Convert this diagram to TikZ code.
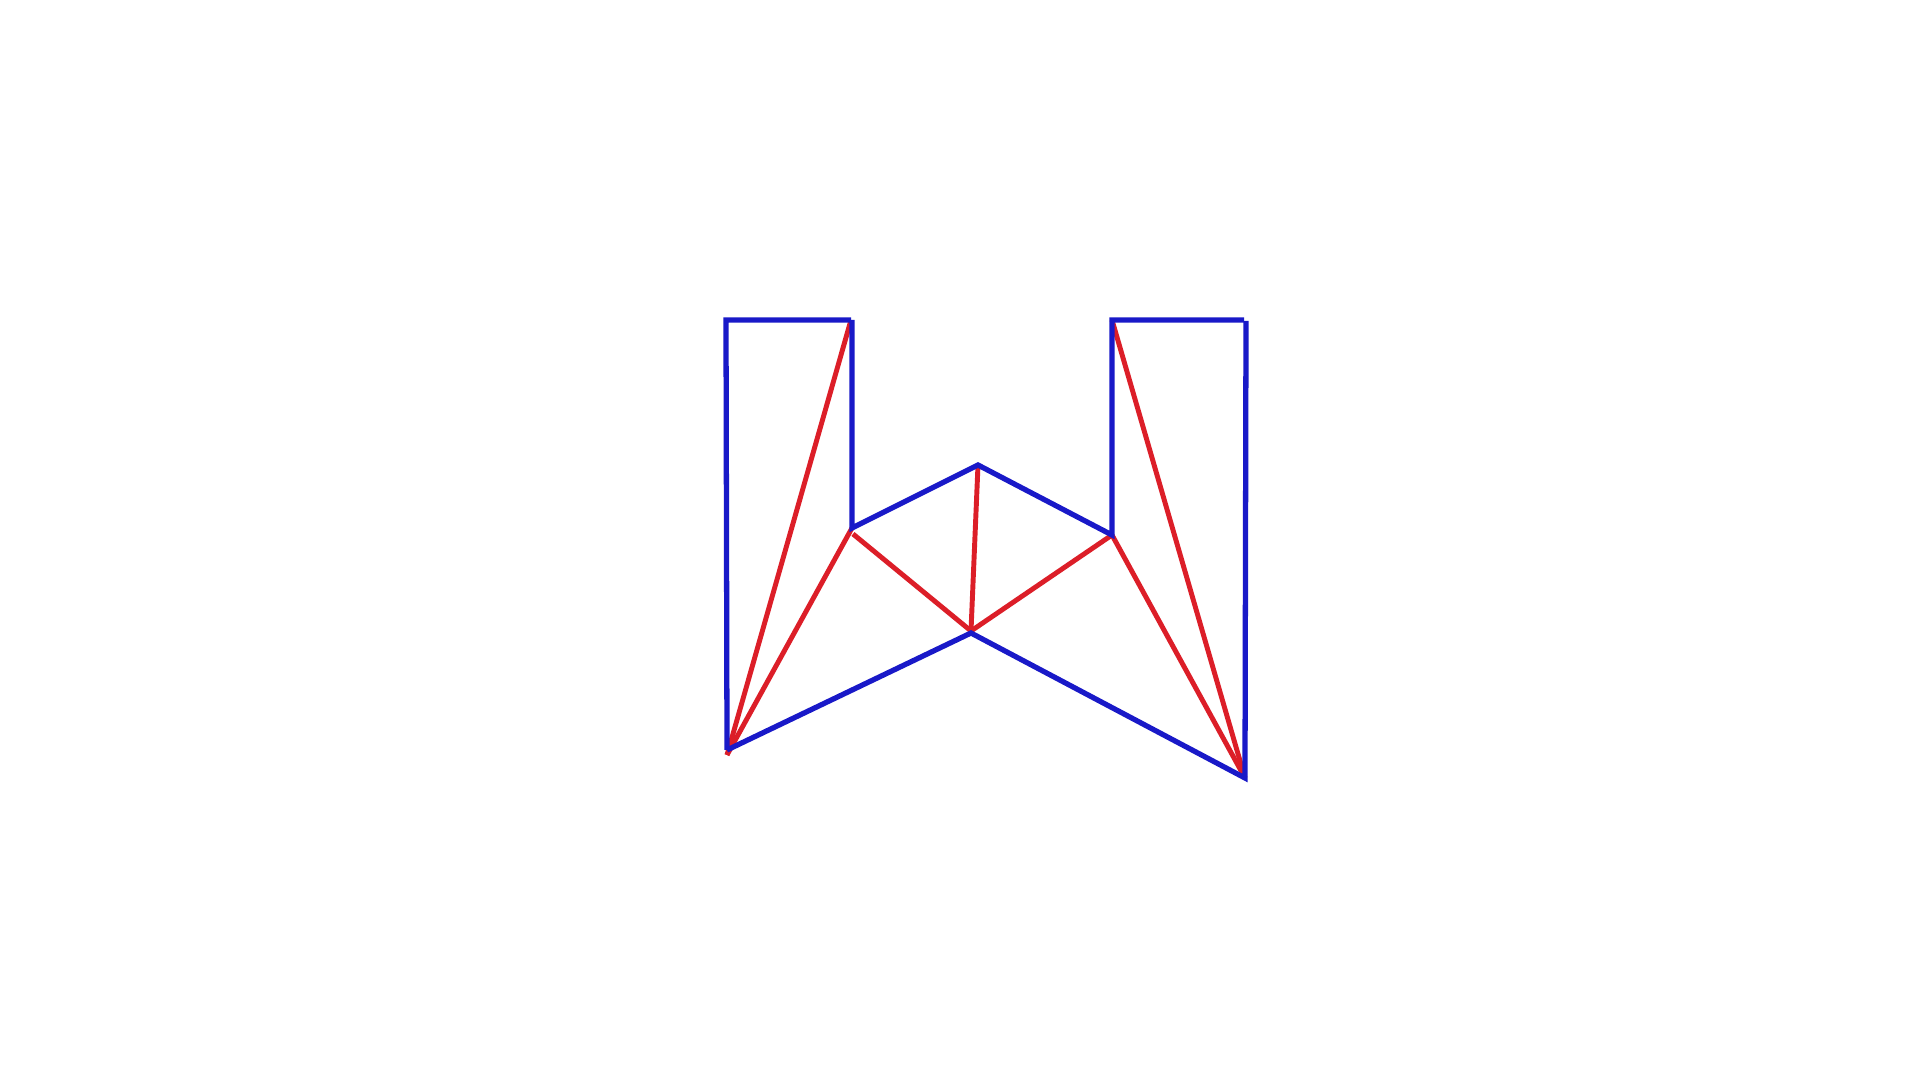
\documentclass[tikz,border=0pt]{standalone}
\definecolor{eblue}{RGB}{25,25,200}
\definecolor{ered}{RGB}{220,30,40}
\tikzset{
  blueedge/.style={draw=eblue, line width=1.5pt},
  rededge/.style={draw=ered, line width=1.4pt},
}
\begin{document}
\begin{tikzpicture}[x=0.01cm,y=-0.01cm]
\useasboundingbox (0,0) rectangle (1920,1080);
\fill[white] (0,0) rectangle (1920,1080);
% vertices
\coordinate (A) at (726,320);
\coordinate (B) at (851,320);
\coordinate (C) at (852,528);
\coordinate (Cr) at (853,534);
\coordinate (D) at (978,465);
\coordinate (E) at (1112,535);
\coordinate (F) at (1112,320);
\coordinate (G) at (1244,320);
\coordinate (G2) at (1246,321);
\coordinate (H) at (1245,778);
\coordinate (I) at (971,633);
\coordinate (Ir) at (971,631);
\coordinate (J) at (727,750);
\coordinate (Jr) at (727,755);
% red diagonals
\draw[rededge] (B) -- (Jr);
\draw[rededge] (C) -- (Jr);
\draw[rededge] (Cr) -- (Ir);
\draw[rededge] (D) -- (Ir);
\draw[rededge] (E) -- (Ir);
\draw[rededge] (E) -- (H);
\draw[rededge] (F) -- (H);
% blue outline
\draw[blueedge] (J) -- (A) -- (B);
\draw[blueedge] (852,320) -- (C) -- (D) -- (E) -- (F) -- (G);
\draw[blueedge] (G2) -- (H) -- (I) -- (J);
\end{tikzpicture}
\end{document}
